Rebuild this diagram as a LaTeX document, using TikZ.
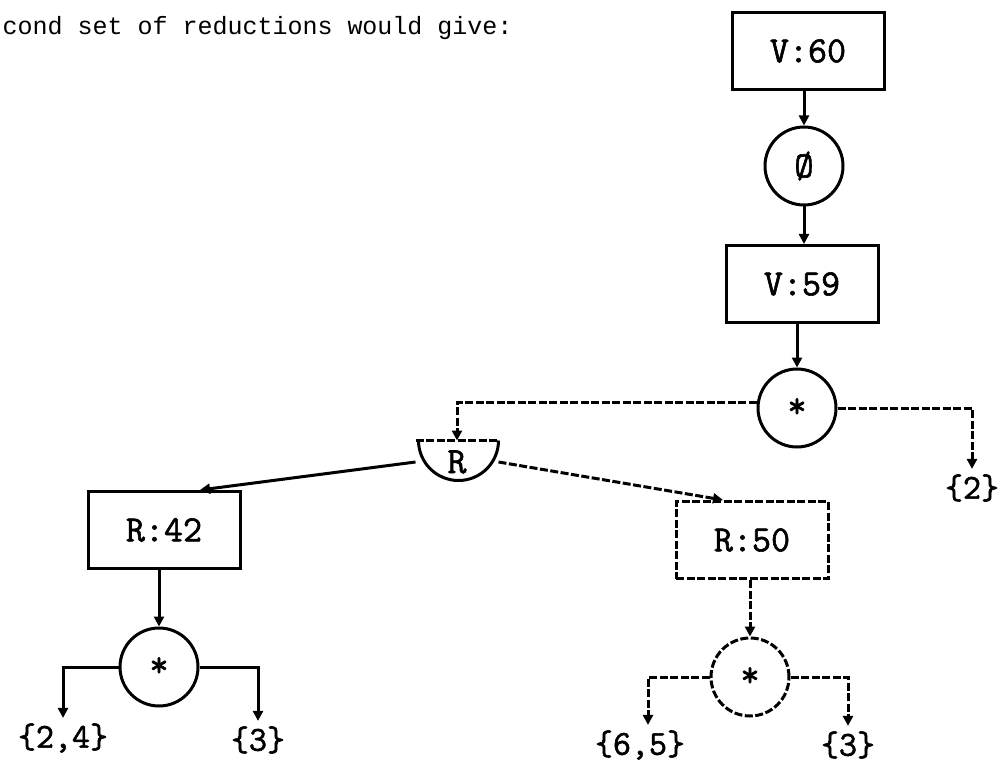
\documentclass[tikz,border=0pt]{standalone}
\usepackage{fontspec}
\newfontfamily\capfont{Liberation Mono}
\newfontfamily\lblfont[FakeBold=1.6]{Latin Modern Mono}
\usetikzlibrary{arrows.meta}
\begin{document}
\begin{tikzpicture}[x=1pt,y=-1pt,
  line width=3pt,
  lbl/.style={font=\lblfont\fontsize{37}{37}\selectfont},
  boxnode/.style={draw,rectangle,minimum width=152pt,minimum height=77pt,inner sep=0pt,lbl},
  opnode/.style={draw,circle,minimum size=78pt,inner sep=0pt,lbl},
  setnode/.style={inner sep=4pt,font=\lblfont\fontsize{35}{35}\selectfont},
  arr/.style={-{Triangle[width=10pt,length=10pt]}},
  faded/.style={dash pattern=on 8pt off 2.5pt}]
\useasboundingbox (0,0) rectangle (1004,778);

\node[anchor=base west,inner sep=0pt,font=\capfont\fontsize{25}{25}\selectfont] (cap) at (1,35) {cond set of reductions would give:};

% top chain
\node[boxnode] (v60) at (808,51) {\raisebox{-5pt}{V:60}};
\node[opnode] (o1) at (804,166) {Ø};
\node[boxnode] (v59) at (802,284) {\raisebox{-3pt}{V:59}};
\node[opnode] (st1) at (797,408) {*};

% R node (half circle)
\node[minimum width=80pt,minimum height=40pt,inner sep=0pt,lbl] (rr) at (457,462) {R};
\draw[faded] (rr.north west) -- (rr.north east);
\draw (rr.north east) arc[start angle=0,end angle=-180,radius=40pt];

\node[setnode] (two) at (972,488) {\{2\}};

\node[boxnode] (r42) at (164,530) {R:42};
\node[boxnode,faded] (r50) at (752,540) {R:50};

\node[opnode] (st2) at (159,667) {*};
\node[opnode,faded] (st3) at (750,677) {*};

\node[setnode] (l24) at (63,738) {\{2,4\}};
\node[setnode] (l3) at (258,740) {\{3\}};
\node[setnode] (l65) at (640,745) {\{6,5\}};
\node[setnode] (l3b) at (848,745) {\{3\}};

% connectors
\draw[arr] (v60.south -| o1.north) -- (o1.north);
\draw[arr] (o1.south) -- (o1.south |- v59.north);
\draw[arr] (st1.north |- v59.south) -- (st1.north);
\draw[arr,faded] ([yshift=6pt]st1.west) -| (rr.north);
\draw[arr,faded] (st1.east) -| (two.north);
\draw[arr] (rr.west) -- ([xshift=36pt]r42.north);
\draw[arr,faded] (rr.east) -- ([xshift=-29pt]r50.north);
\draw[arr] (st2.north |- r42.south) -- (st2.north);
\draw[arr] (st2.west) -| (l24.north);
\draw[arr] (st2.east) -| (l3.north);
\draw[arr,faded] (st3.north |- r50.south) -- (st3.north);
\draw[arr,faded] (st3.west) -| ([xshift=8pt]l65.north);
\draw[arr,faded] (st3.east) -| (l3b.north);
\end{tikzpicture}
\end{document}
